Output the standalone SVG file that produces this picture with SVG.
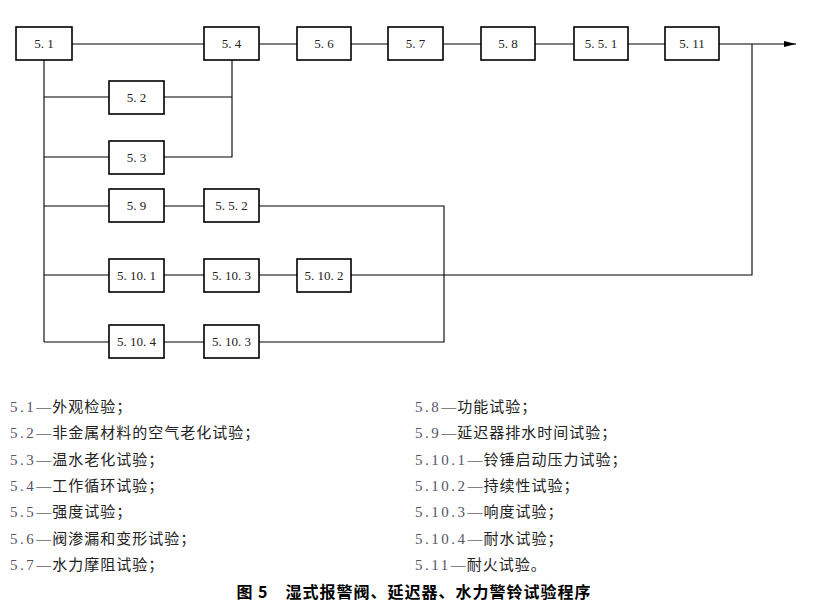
<svg xmlns="http://www.w3.org/2000/svg" width="828" height="606" viewBox="0 0 828 606">
<style>
.b rect{fill:#fff;stroke:#000;stroke-width:1.6}
.b text{font-family:"Liberation Serif",serif;font-size:13px;text-anchor:middle;fill:#222}
.c{fill:none;stroke:#000;stroke-width:1.1}
.l{font-family:"Liberation Serif","Noto Sans CJK SC",serif;font-size:15px;fill:#222;letter-spacing:1px}
.n{fill:#556;letter-spacing:2.5px}
.t{font-family:"Noto Sans CJK SC",sans-serif;font-size:16px;font-weight:bold;text-anchor:middle;letter-spacing:1px}
</style>
<defs><marker id="a" markerWidth="12" markerHeight="8" refX="12" refY="4" orient="auto" markerUnits="userSpaceOnUse"><path d="M0,1 L12,4 L0,7 Z"/></marker></defs>
<g id="connectors" class="c">
<path d="M72,44 H204 M259,44 H297 M351,44 H388 M443,44 H481 M535,44 H574 M628,44 H665"/>
<path d="M719,44 H796" marker-end="url(#a)"/>
<path d="M44,60 V342 M44,97 H109 M164,97 H232 M232,60 V157 H164 M44,157 H109"/>
<path d="M44,206 H109 M164,206 H204 M259,206 H444 V342 H259 M44,342 H109 M164,342 H204"/>
<path d="M44,275 H109 M164,275 H204 M259,275 H297 M351,275 H752 V44"/>
</g>
<g class="b">
<g id="n51"><rect x="16" y="27" width="56" height="33"/><text x="44" y="48">5. 1</text></g>
<g id="n54"><rect x="204" y="27" width="55" height="33"/><text x="231.5" y="48">5. 4</text></g>
<g id="n56"><rect x="297" y="27" width="54" height="33"/><text x="324" y="48">5. 6</text></g>
<g id="n57"><rect x="388" y="27" width="55" height="33"/><text x="415.5" y="48">5. 7</text></g>
<g id="n58"><rect x="481" y="27" width="54" height="33"/><text x="508" y="48">5. 8</text></g>
<g id="n551"><rect x="574" y="27" width="54" height="33"/><text x="601" y="48">5. 5. 1</text></g>
<g id="n511"><rect x="665" y="27" width="54" height="33"/><text x="692" y="48">5. 11</text></g>
<g id="n52"><rect x="109" y="81" width="55" height="33"/><text x="136.5" y="102">5. 2</text></g>
<g id="n53"><rect x="109" y="141" width="55" height="33"/><text x="136.5" y="162">5. 3</text></g>
<g id="n59"><rect x="109" y="189" width="55" height="33"/><text x="136.5" y="210">5. 9</text></g>
<g id="n552"><rect x="204" y="189" width="55" height="33"/><text x="231.5" y="210">5. 5. 2</text></g>
<g id="n5101"><rect x="109" y="259" width="55" height="33"/><text x="136.5" y="280">5. 10. 1</text></g>
<g id="n5103a"><rect x="204" y="259" width="55" height="33"/><text x="231.5" y="280">5. 10. 3</text></g>
<g id="n5102"><rect x="297" y="259" width="54" height="33"/><text x="324" y="280">5. 10. 2</text></g>
<g id="n5104"><rect x="109" y="325" width="55" height="33"/><text x="136.5" y="346">5. 10. 4</text></g>
<g id="n5103b"><rect x="204" y="325" width="55" height="33"/><text x="231.5" y="346">5. 10. 3</text></g>
</g>
<g class="l">
<text x="10" y="412"><tspan class="n">5.1</tspan>—外观检验；</text>
<text x="10" y="438"><tspan class="n">5.2</tspan>—非金属材料的空气老化试验；</text>
<text x="10" y="465"><tspan class="n">5.3</tspan>—温水老化试验；</text>
<text x="10" y="491"><tspan class="n">5.4</tspan>—工作循环试验；</text>
<text x="10" y="517"><tspan class="n">5.5</tspan>—强度试验；</text>
<text x="10" y="544"><tspan class="n">5.6</tspan>—阀渗漏和变形试验；</text>
<text x="10" y="570"><tspan class="n">5.7</tspan>—水力摩阻试验；</text>
<text x="415" y="412"><tspan class="n">5.8</tspan>—功能试验；</text>
<text x="415" y="438"><tspan class="n">5.9</tspan>—延迟器排水时间试验；</text>
<text x="415" y="465"><tspan class="n">5.10.1</tspan>—铃锤启动压力试验；</text>
<text x="415" y="491"><tspan class="n">5.10.2</tspan>—持续性试验；</text>
<text x="415" y="517"><tspan class="n">5.10.3</tspan>—响度试验；</text>
<text x="415" y="544"><tspan class="n">5.10.4</tspan>—耐水试验；</text>
<text x="415" y="570"><tspan class="n">5.11</tspan>—耐火试验。</text>
</g>
<text class="t" x="414" y="598">图 5　湿式报警阀、延迟器、水力警铃试验程序</text>
</svg>
